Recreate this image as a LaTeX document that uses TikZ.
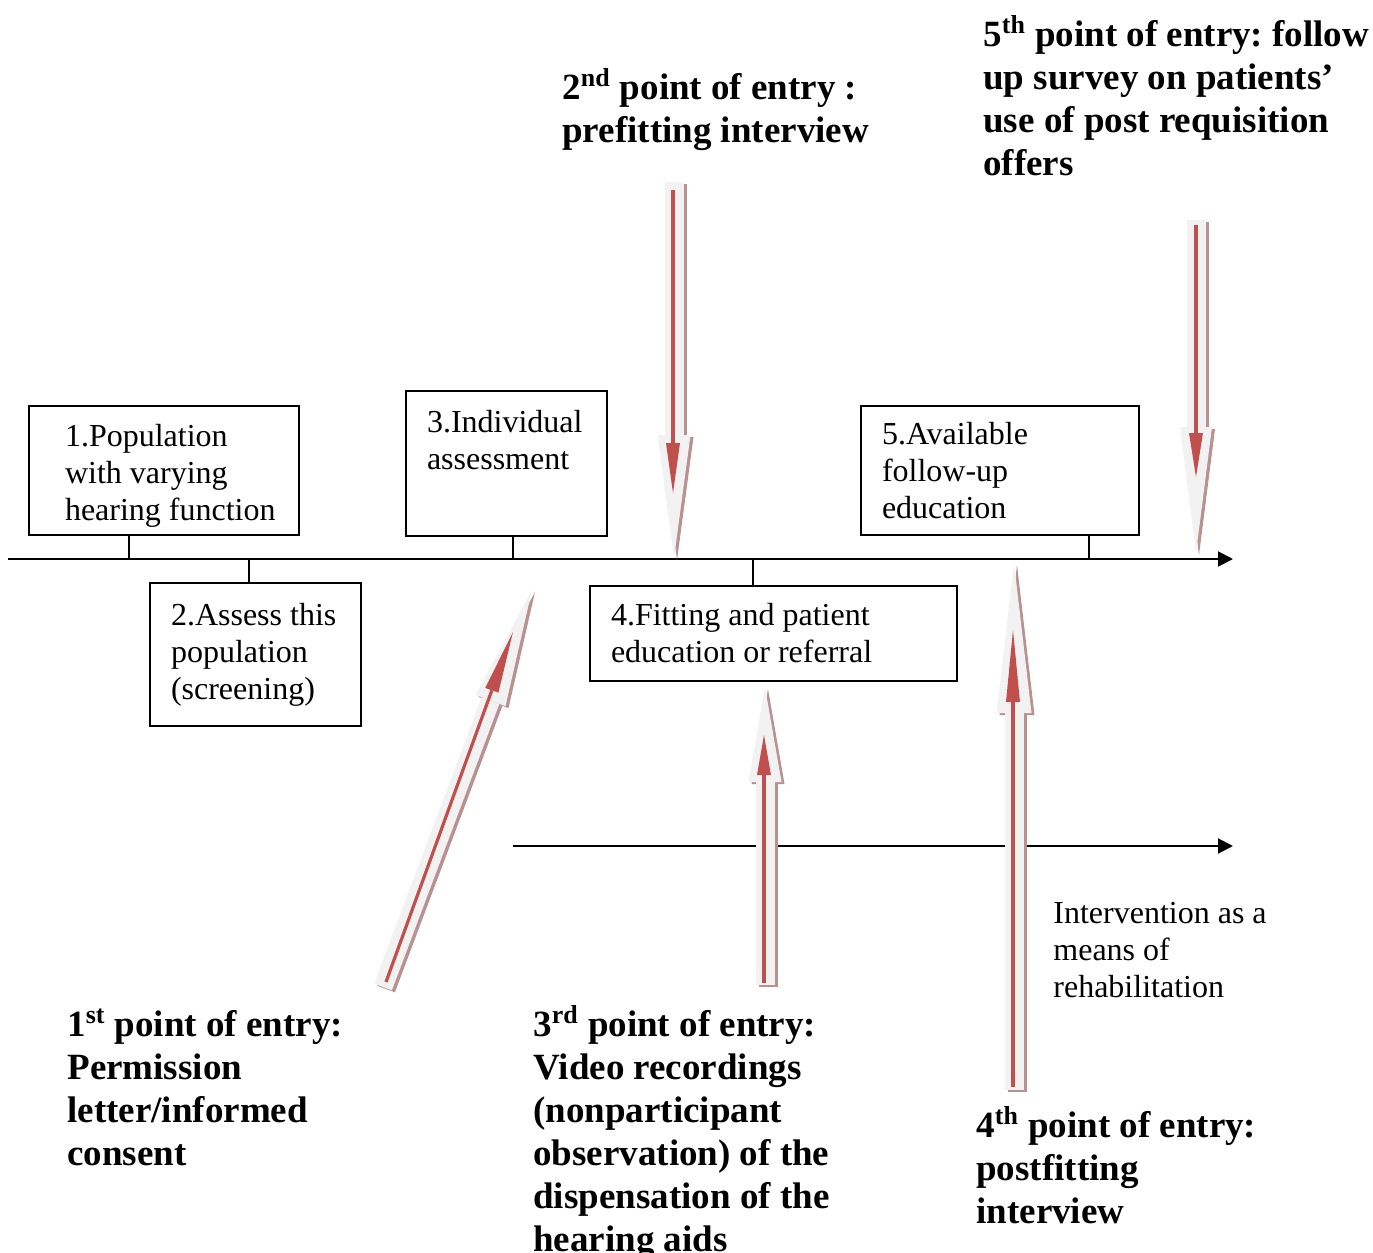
\documentclass[tikz,border=0pt]{standalone}
\usepackage{fontspec}
\setmainfont{Liberation Serif}
\usetikzlibrary{arrows.meta}
\frenchspacing

\definecolor{entrygray}{RGB}{242,242,242}
\definecolor{entryred}{RGB}{192,80,77}
\definecolor{entryshadow}{RGB}{185,145,145}

\newcommand\boxfont{\fontsize{16}{18.5}\selectfont}
\newcommand\entryfont{\fontsize{18.5}{21.5}\selectfont\bfseries}

\tikzset{
  timeline/.style={line width=1pt, -{Triangle[length=7.5pt,width=7.5pt]}},
  stage/.style={draw, line width=1pt, anchor=north west, align=flush left, inner xsep=10.5pt, font=\boxfont},
  stem/.style={line width=1pt},
  entry/.style={anchor=base west, align=left, inner sep=0pt, font=\entryfont},
  arrbody/.style 2 args={draw=entrygray, line width=9.5pt, -{Triangle[length=#1 0 0, width=#2 0 0, line width=0pt 0 0]}},
  arrshadow/.style 2 args={arrbody={#1}{#2}, draw=entryshadow, transform canvas={xshift=1.5pt, yshift=-1pt}},
  arrcore/.style={draw=entryred, line width=1.6pt, -{Triangle[length=#1 0 0, width=7pt 0 0, line width=0pt 0 0]}},
}

\begin{document}
\begin{tikzpicture}[x=0.5pt, y=-0.5pt]
  \useasboundingbox (0,0) rectangle (1373,1253);

  % time lines
  \coordinate (axL) at (8,559);
  \coordinate (axR) at (1233,559);
  \coordinate (subL) at (513,846);
  \coordinate (subR) at (1233,846);
  \draw[timeline] (axL) -- (axR);
  \draw[timeline] (subL) -- (subR);

  % stages
  \node[stage, inner xsep=18pt, text width=99pt, minimum height=64.5pt] (pop) at (28,405) {\rule{0pt}{16.3pt}1.Population\\with varying\\\mbox{hearing function}};
  \node[stage, text width=84.5pt, minimum height=71.5pt] (assess) at (149,582) {2.Assess this\\population\\(screening)};
  \node[stage, text width=79.5pt, minimum height=72.5pt] (indiv) at (405,390) {3.Individual\\assessment\\[5pt]~};
  \node[stage, text width=162.5pt, minimum height=47.5pt] (fit) at (589,585) {4.Fitting and patient\\education or referral};
  \node[stage, text width=118pt, minimum height=64.5pt] (avail) at (860,405) {5.Available\\follow-up\\education};

  \coordinate (t1) at (129,559);
  \coordinate (t2) at (249,559);
  \coordinate (t3) at (513,559);
  \coordinate (t4) at (753,559);
  \coordinate (t5) at (1089,559);
  \draw[stem] (t1) -- (t1 |- pop.south);
  \draw[stem] (t2) -- (t2 |- assess.north);
  \draw[stem] (t3) -- (t3 |- indiv.south);
  \draw[stem] (t4) -- (t4 |- fit.north);
  \draw[stem] (t5) -- (t5 |- avail.south);

  % points of entry
  \coordinate (a1) at (383,987);  \coordinate (b1) at (532,590);
  \coordinate (c1) at (386,982);  \coordinate (d1) at (513,632);
  \coordinate (a2) at (674,182);  \coordinate (b2) at (674,558);
  \coordinate (c2) at (673,190);  \coordinate (d2) at (673,493);
  \coordinate (a3) at (765,985);  \coordinate (b3) at (765,687);
  \coordinate (c3) at (764,983);  \coordinate (d3) at (764,735);
  \coordinate (a4) at (1014,1090); \coordinate (b4) at (1014,563);
  \coordinate (c4) at (1013,1087); \coordinate (d4) at (1013,630);
  \coordinate (a5) at (1196,220); \coordinate (b5) at (1196,553);
  \coordinate (c5) at (1196,225); \coordinate (d5) at (1196,477);

  \draw[arrshadow={59pt}{16pt}] (a1) -- (b1);
  \draw[arrbody={59pt}{16pt}] (a1) -- (b1);
  \draw[arrcore=31pt] (c1) -- (d1);
  \draw[arrshadow={61.5pt}{16.5pt}] (a2) -- (b2);
  \draw[arrbody={61.5pt}{16.5pt}] (a2) -- (b2);
  \draw[arrcore=25pt] (c2) -- (d2);
  \draw[arrshadow={47.5pt}{16.5pt}] (a3) -- (b3);
  \draw[arrbody={47.5pt}{16.5pt}] (a3) -- (b3);
  \draw[arrcore=20pt] (c3) -- (d3);
  \draw[arrshadow={75pt}{17.5pt}] (a4) -- (b4);
  \draw[arrbody={75pt}{17.5pt}] (a4) -- (b4);
  \draw[arrcore=36pt] (c4) -- (d4);
  \draw[arrshadow={63pt}{16pt}] (a5) -- (b5);
  \draw[arrbody={63pt}{16pt}] (a5) -- (b5);
  \draw[arrcore=22pt] (c5) -- (d5);

  % labels (anchored at the last line)
  \node[entry] (e1) at (67,1165) {1\textsuperscript{st} point of entry:\\Permission\\letter/informed\\consent};
  \node[entry] (e2) at (562,142) {2\textsuperscript{nd} point of entry :\\prefitting interview};
  \node[entry] (e3) at (533,1251) {3\textsuperscript{rd} point of entry:\\Video recordings\\(nonparticipant\\observation) of the\\dispensation of the\\hearing aids};
  \node[entry] (e4) at (976,1223) {4\textsuperscript{th} point of entry:\\postfitting\\interview};
  \node[entry] (e5) at (983,175) {5\textsuperscript{th} point of entry: follow\\up survey on patients’\\use of post requisition\\offers};
  \node[anchor=base west, align=left, inner sep=0pt, font=\boxfont] (rehab) at (1053,997) {Intervention as a\\means of\\rehabilitation};
\end{tikzpicture}
\end{document}
